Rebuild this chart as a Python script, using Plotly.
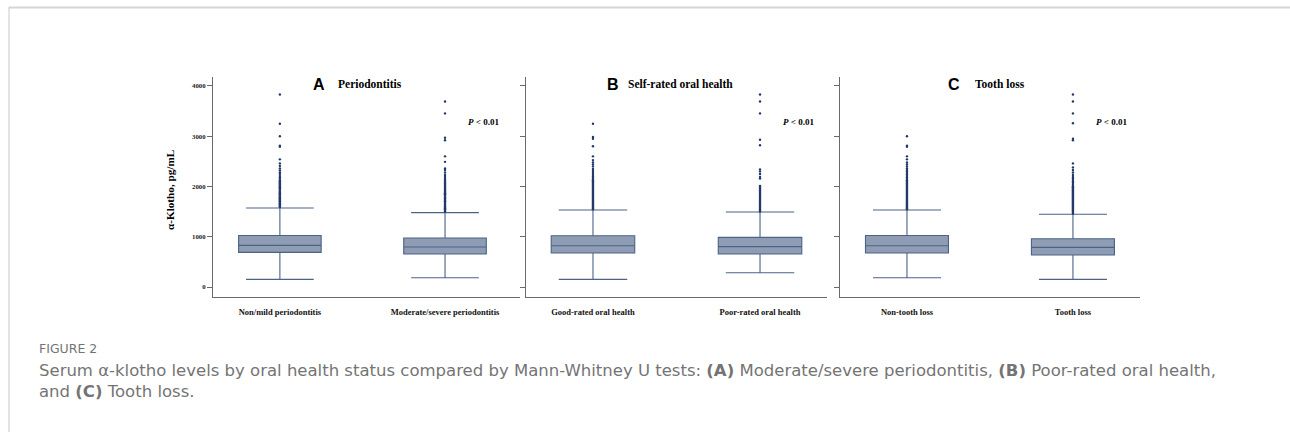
import plotly.graph_objects as go

# ---------------- data ----------------
panel_titles = ["Periodontitis", "Self-rated oral health", "Tooth loss"]
panel_letters = ["A", "B", "C"]
group_labels = [
    ["Non/mild periodontitis", "Moderate/severe periodontitis"],
    ["Good-rated oral health", "Poor-rated oral health"],
    ["Non-tooth loss", "Tooth loss"],
]
q1_vals = [[690, 658], [678, 658], [678, 638]]
median_vals = [[829, 796], [822, 803], [822, 789]]
q3_vals = [[1026, 974], [1020, 987], [1026, 961]]
lower_vals = [[151, 184], [151, 283], [184, 151]]
upper_vals = [[1572, 1480], [1533, 1493], [1533, 1447]]

out_A1 = [3830, 3250, 3000, 2810, 2790, 2540, 2460, 2410, 2360, 2320, 2280, 2250, 2210, 2180,
          2150, 2120, 2100, 2080, 2060, 2040, 2020, 2000, 1985, 1965, 1950, 1930, 1910, 1895,
          1880, 1860, 1845, 1830, 1810, 1795, 1780, 1765, 1750, 1735, 1720, 1705, 1690, 1675,
          1660, 1645, 1630, 1615, 1600, 1590]
out_A2 = [3690, 3455, 2970, 2920, 2600, 2490, 2360, 2330, 2280, 2230, 2190, 2150, 2120, 2090,
          2070, 2050, 2030, 2010, 1990, 1970, 1950, 1935, 1915, 1900, 1880, 1865, 1845, 1830,
          1810, 1790, 1775, 1760, 1740, 1720, 1705, 1690, 1670, 1650, 1635, 1615, 1600, 1580,
          1565, 1545, 1530, 1510, 1495]
out_B1 = [3250, 2985, 2950, 2800, 2600, 2525, 2480, 2440, 2400, 2350, 2310, 2270, 2230, 2200,
          2170, 2150, 2125, 2100, 2080, 2060, 2040, 2020, 2000, 1980, 1960, 1940, 1920, 1900,
          1880, 1860, 1840, 1820, 1800, 1780, 1760, 1740, 1720, 1700, 1680, 1660, 1640, 1620,
          1600, 1580, 1560, 1545]
out_B2 = [3830, 3690, 3455, 2930, 2820, 2340, 2300, 2250, 2190, 2160, 2010, 1995, 1975, 1955,
          1935, 1915, 1895, 1875, 1855, 1835, 1815, 1795, 1775, 1755, 1735, 1715, 1695, 1675,
          1655, 1635, 1615, 1595, 1575, 1555, 1535, 1515, 1500]
out_C1 = [3000, 2810, 2790, 2600, 2540, 2480, 2440, 2400, 2360, 2330, 2300, 2270, 2240, 2210,
          2180, 2150, 2125, 2100, 2080, 2060, 2040, 2020, 2000, 1980, 1960, 1940, 1920, 1900,
          1880, 1860, 1840, 1820, 1800, 1780, 1760, 1740, 1720, 1700, 1680, 1660, 1640, 1620,
          1600, 1580, 1560, 1545]
out_C2 = [3830, 3690, 3455, 3260, 2950, 2920, 2460, 2380, 2330, 2280, 2230, 2190, 2160, 2130,
          2100, 2075, 2050, 2030, 2005, 1985, 1960, 1940, 1920, 1900, 1880, 1860, 1840, 1820,
          1800, 1780, 1760, 1740, 1720, 1700, 1680, 1660, 1640, 1620, 1600, 1580, 1560, 1540,
          1520, 1500, 1480, 1460]
outliers = [[out_A1, out_A2], [out_B1, out_B2], [out_C1, out_C2]]

p_text = "<i>P</i> < 0.01"
p_y = 3280
y_ticks = [0, 1000, 2000, 3000, 4000]
y_title = "α-Klotho, pg/mL"

caption_head = "FIGURE 2"
caption_l1 = ("Serum α-klotho levels by oral health status compared by Mann-Whitney U tests: "
              "<b>(A)</b> Moderate/severe periodontitis, <b>(B)</b> Poor-rated oral health,")
caption_l2 = "and <b>(C)</b> Tooth loss."

# ---------------- styling / layout ----------------
W, H = 1290, 432
ML, MR, MT, MB = 150, 100, 60, 120
PW, PH = W - ML - MR, H - MT - MB


def px_x(px):
    return (px - ML) / PW


def px_y(py):
    return (H - MB - py) / PH


x_domains = [[px_x(213), px_x(520)], [px_x(526), px_x(827)], [px_x(840), px_x(1140)]]
x_ranges = [[-0.405, 1.454], [-0.401, 1.401], [-0.4035, 1.404]]
y_domain = [px_y(297), px_y(77)]
y_range = [-199, 4179]

BOX_FILL = "#8e9cb4"
BOX_LINE = "#4d6386"
DOT = "#22396a"
AXIS = "#6a6a6a"
SERIF = "Liberation Serif"
CAP_FONT = "DejaVu Sans"
CAP_COLOR = "#747474"

fig = go.Figure()
for i in range(3):
    sfx = "" if i == 0 else str(i + 1)
    xa, ya = "x" + sfx, "y" + sfx
    fig.add_trace(go.Box(
        x=[0, 1], q1=q1_vals[i], median=median_vals[i], q3=q3_vals[i],
        lowerfence=lower_vals[i], upperfence=upper_vals[i],
        boxpoints=False, width=0.5, whiskerwidth=0.82,
        fillcolor=BOX_FILL, line=dict(color=BOX_LINE, width=1.1),
        xaxis=xa, yaxis=ya, showlegend=False, hoverinfo="skip"))
    for g in range(2):
        fig.add_trace(go.Scatter(
            x=[g] * len(outliers[i][g]), y=outliers[i][g], mode="markers",
            marker=dict(color=DOT, size=2.4, line=dict(width=0)),
            xaxis=xa, yaxis=ya, showlegend=False, hoverinfo="skip"))

    fig.layout["xaxis" + sfx] = dict(
        domain=x_domains[i], range=x_ranges[i], anchor=ya,
        tickmode="array", tickvals=[0, 1],
        ticktext=["<b>%s</b>" % t for t in group_labels[i]],
        ticks="outside", ticklen=7, tickcolor="rgba(0,0,0,0)",
        tickfont=dict(family=SERIF, size=8.5, color="#111"),
        showline=True, linecolor=AXIS, linewidth=1,
        showgrid=False, zeroline=False, fixedrange=True)
    fig.layout["yaxis" + sfx] = dict(
        domain=y_domain, range=y_range, anchor=xa,
        tickmode="array", tickvals=y_ticks,
        ticktext=["<b>%d</b>" % v for v in y_ticks],
        showticklabels=(i == 0),
        ticks="outside", ticklen=5, tickwidth=1, tickcolor=AXIS,
        tickfont=dict(family=SERIF, size=6.8, color="#222"),
        showline=True, linecolor=AXIS, linewidth=1,
        showgrid=False, zeroline=False, fixedrange=True)

    # panel title: letter + name
    letter_x = [319, 613, 954][i]
    name_x = [336, 626, 973][i]
    fig.add_annotation(x=px_x(letter_x), y=px_y(84), xref="paper", yref="paper",
                       text="<b>" + panel_letters[i] + "</b>", showarrow=False,
                       xanchor="center", yanchor="middle",
                       font=dict(family="Liberation Sans", size=16, color="#000"))
    fig.add_annotation(x=px_x(name_x), y=px_y(84), xref="paper", yref="paper",
                       text="<b>" + panel_titles[i] + "</b>", showarrow=False,
                       xanchor="left", yanchor="middle",
                       font=dict(family=SERIF, size=11.5, color="#000"))
    # p-value label
    fig.add_annotation(x=1.23, y=p_y, xref=xa, yref=ya,
                       text="<b>" + p_text + "</b>", showarrow=False,
                       xanchor="center", yanchor="middle",
                       font=dict(family=SERIF, size=9, color="#000"))

# y-axis title
fig.add_annotation(x=px_x(170), y=px_y(190), xref="paper", yref="paper",
                   text="<b>" + y_title + "</b>", textangle=-90, showarrow=False,
                   xanchor="center", yanchor="middle",
                   font=dict(family=SERIF, size=11.2, color="#000"))

# caption
fig.add_annotation(x=px_x(37), y=px_y(348), xref="paper", yref="paper",
                   text=caption_head, showarrow=False, xanchor="left", yanchor="middle",
                   font=dict(family=CAP_FONT, size=12.5, color=CAP_COLOR))
fig.add_annotation(x=px_x(37), y=px_y(370), xref="paper", yref="paper",
                   text=caption_l1, showarrow=False, xanchor="left", yanchor="middle",
                   font=dict(family=CAP_FONT, size=16.5, color=CAP_COLOR))
fig.add_annotation(x=px_x(37), y=px_y(391), xref="paper", yref="paper",
                   text=caption_l2, showarrow=False, xanchor="left", yanchor="middle",
                   font=dict(family=CAP_FONT, size=16.5, color=CAP_COLOR))

# page frame lines
fig.add_shape(type="line", xref="paper", yref="paper",
              x0=px_x(9), x1=px_x(1290), y0=px_y(7.5), y1=px_y(7.5),
              line=dict(color="#d6d6d6", width=2))
fig.add_shape(type="line", xref="paper", yref="paper",
              x0=px_x(9), x1=px_x(9), y0=px_y(7), y1=px_y(432),
              line=dict(color="#c8c8c8", width=1))

fig.update_layout(
    width=W, height=H, autosize=False,
    margin=dict(l=ML, r=MR, t=MT, b=MB, autoexpand=False),
    paper_bgcolor="white", plot_bgcolor="white",
    showlegend=False,
)

fig.write_html("out.html", config={"displayModeBar": False},
               post_script="document.body.style.margin='0';")
